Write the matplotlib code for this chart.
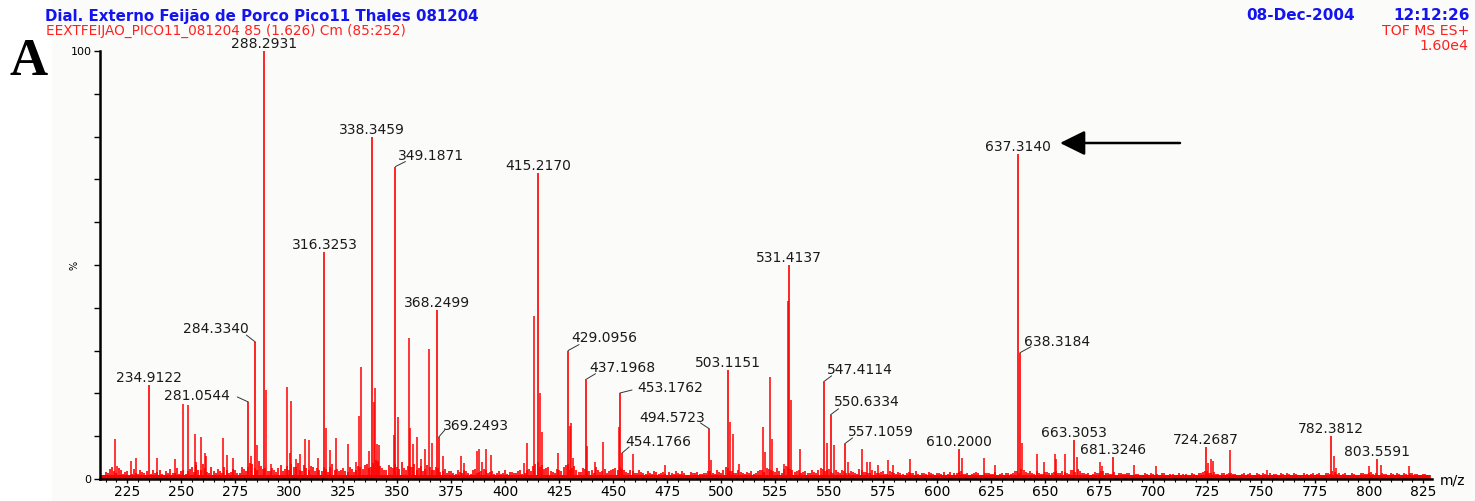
import numpy as np
import matplotlib
matplotlib.use("Agg")
import matplotlib.pyplot as plt
from matplotlib.patches import Rectangle

# ---------------- data ----------------
labeled_mz = [234.9122, 281.0544, 284.3340, 288.2931, 316.3253, 338.3459, 349.1871,
              368.2499, 369.2493, 415.2170, 429.0956, 437.1968, 453.1762, 454.1766,
              494.5723, 503.1151, 531.4137, 547.4114, 550.6334, 557.1059, 610.2000,
              637.3140, 638.3184, 663.3053, 681.3246, 724.2687, 782.3812, 803.5591]
labeled_int = [22.0, 18.0, 32.0, 100.0, 53.0, 80.0, 73.0,
               39.4, 9.8, 71.4, 30.0, 23.2, 20.1, 6.1,
               11.7, 25.4, 50.0, 22.7, 15.0, 8.2, 7.0,
               76.0, 29.5, 9.1, 5.1, 7.5, 10.0, 4.7]

other_mz = [219.3, 220.5, 226.9, 229.1, 239.0, 247.1, 251.0, 253.0, 256.2, 256.8,
            259.3, 260.9, 261.5, 269.2, 271.2, 273.9, 282.1, 285.3, 289.2, 291.8,
            298.8, 300.3, 300.9, 303.1, 305.1, 307.3, 309.3, 313.1, 317.0, 319.0,
            321.6, 327.3, 331.1, 332.4, 333.2, 337.0, 339.4, 339.7, 340.7, 341.6,
            348.6, 350.2, 355.4, 355.9, 357.3, 359.0, 360.9, 363.1, 364.8, 366.0,
            371.3, 379.4, 381.1, 387.1, 388.0, 389.2, 391.2, 393.5, 408.8, 410.1,
            413.3, 416.2, 416.9, 424.4, 430.1, 430.6, 431.2, 438.0, 441.7, 445.1,
            452.5, 459.1, 473.8, 495.3, 504.1, 505.4, 508.3, 519.3, 520.1, 522.7,
            523.6, 528.9, 530.9, 532.4, 536.6, 549.1, 552.1, 558.6, 565.2, 567.5,
            569.0, 572.4, 577.1, 579.6, 587.5, 611.5, 621.8, 626.9, 639.5, 646.2,
            649.6, 654.7, 655.2, 659.3, 664.7, 675.5, 676.3, 691.1, 701.1, 725.5,
            726.8, 727.7, 735.7, 752.6, 783.6, 784.8, 799.8, 805.4, 818.3]
other_int = [9.4, 3.0, 4.2, 4.9, 4.9, 4.7, 17.5, 17.3, 10.5, 4.0,
             9.8, 6.1, 5.4, 9.6, 5.6, 5.0, 5.4, 7.9, 20.8, 3.4,
             21.6, 6.0, 18.3, 4.7, 5.8, 9.4, 9.0, 5.0, 12.0, 6.8,
             9.6, 8.1, 4.0, 14.8, 26.2, 6.6, 18.1, 21.2, 8.2, 7.9,
             10.3, 14.4, 33.0, 12.0, 8.2, 9.7, 4.7, 7.0, 30.4, 8.5,
             5.3, 5.3, 3.7, 6.6, 7.0, 4.0, 7.1, 5.6, 3.8, 8.4,
             38.0, 20.2, 10.9, 6.0, 12.3, 13.0, 5.0, 7.6, 4.0, 8.7,
             12.2, 5.9, 3.3, 4.5, 13.4, 10.5, 3.5, 12.1, 6.4, 23.8,
             9.4, 3.5, 41.7, 18.5, 6.9, 8.5, 8.0, 4.0, 7.1, 4.0,
             4.0, 3.3, 4.5, 3.3, 4.6, 5.0, 5.0, 3.2, 8.5, 5.8,
             4.0, 5.8, 4.6, 5.8, 5.1, 4.0, 3.0, 3.2, 3.0, 3.8,
             4.6, 4.2, 6.8, 2.0, 5.3, 2.5, 3.0, 3.2, 3.0]

# baseline noise: one value per 2 m/z units, first set starting at 213, second at 214
noise_a_start, noise_b_start, noise_step = 213, 214, 2
noise_a = [
    1.0, 1.6, 2.4, 1.8, 2.6, 1.2, 1.9, 1.1, 1.5, 2.2,
    1.3, 0.9, 2.0, 1.6, 1.2, 1.8, 2.4, 1.4, 1.1, 2.0,
    1.8, 2.8, 3.2, 2.1, 2.6, 1.5, 1.9, 2.3, 1.4, 2.2,
    1.6, 2.0, 1.3, 2.4, 2.9, 3.4, 2.2, 3.0, 2.5, 1.8,
    2.1, 2.6, 1.9, 3.1, 3.6, 2.8, 2.2, 3.3, 2.0, 2.7,
    2.5, 1.9, 2.3, 2.9, 2.1, 1.8, 2.6, 1.7, 2.4, 2.0,
    2.8, 3.2, 2.5, 3.8, 4.2, 2.6, 2.2, 2.9, 3.4, 2.3,
    2.6, 3.1, 2.8, 2.2, 3.0, 2.4, 2.7, 2.0, 2.5, 1.8,
    1.4, 1.9, 1.2, 1.7, 2.2, 1.5, 2.0, 1.3, 1.8, 2.1,
    1.6, 1.2, 1.8, 1.4, 1.1, 1.7, 1.5, 2.0, 1.3, 2.4,
    3.0, 4.0, 3.2, 2.5, 1.9, 1.5, 2.1, 2.8, 3.5, 2.6,
    2.0, 1.6, 2.4, 1.8, 1.5, 2.2, 1.9, 1.4, 2.0, 2.6,
    2.8, 2.0, 1.5, 1.9, 1.3, 1.7, 1.1, 1.5, 1.8, 1.2,
    1.6, 1.0, 1.4, 1.8, 1.2, 1.5, 0.9, 1.3, 1.7, 1.1,
    1.4, 1.9, 1.2, 1.6, 2.2, 2.5, 1.8, 1.3, 1.6, 1.1,
    1.5, 1.2, 1.8, 2.0, 2.6, 2.2, 1.7, 1.9, 2.4, 2.8,
    2.2, 1.8, 1.4, 1.9, 1.3, 1.6, 2.0, 2.4, 2.1, 1.7,
    2.0, 1.5, 1.8, 1.3, 1.6, 1.2, 2.1, 1.7, 1.4, 1.9,
    1.3, 1.8, 1.1, 1.6, 1.2, 1.5, 1.0, 1.7, 1.4, 1.2,
    1.5, 1.1, 1.4, 1.0, 1.3, 1.6, 1.2, 0.9, 1.4, 1.8,
    1.2, 1.0, 1.5, 1.3, 0.9, 1.4, 1.1, 1.6, 1.2, 1.0,
    1.5, 1.3, 1.9, 2.4, 1.6, 1.8, 1.2, 1.5, 1.1, 1.7,
    1.4, 1.9, 1.3, 1.6, 1.2, 2.0, 2.3, 1.5, 1.2, 1.0,
    1.6, 1.3, 1.8, 1.4, 1.2, 1.0, 1.5, 1.1, 1.3, 0.9,
    1.2, 0.8, 1.1, 1.3, 0.9, 1.0, 1.4, 0.8, 1.1, 0.9,
    1.0, 1.2, 0.8, 1.1, 1.3, 1.6, 1.9, 1.4, 1.2, 1.0,
    1.3, 1.5, 1.1, 0.9, 1.2, 1.0, 1.4, 0.8, 1.1, 1.3,
    1.0, 0.8, 1.2, 1.4, 0.9, 1.1, 1.3, 1.0, 0.8, 1.2,
    1.1, 0.9, 1.3, 1.0, 1.5, 1.8, 1.2, 1.0, 1.4, 0.9,
    1.2, 1.0, 1.4, 1.1, 1.6, 1.3, 1.0, 1.2, 0.9, 1.1,
    1.3, 1.0, 1.2, 1.5, 1.1, 0.9, 1.2, 1.0]
noise_b = [
    0.8, 1.3, 2.9, 1.4, 2.0, 1.7, 0.9, 2.3, 1.2, 1.6,
    1.9, 1.1, 1.4, 2.2, 0.9, 1.5, 1.3, 2.6, 1.8, 1.2,
    2.4, 1.6, 2.0, 3.5, 1.7, 2.9, 1.4, 1.8, 2.7, 1.5,
    2.3, 1.4, 2.8, 1.9, 3.7, 2.6, 4.1, 2.3, 1.9, 2.6,
    1.7, 3.2, 2.4, 2.0, 2.9, 3.8, 1.9, 2.5, 3.0, 1.8,
    2.2, 2.8, 1.7, 3.4, 2.3, 2.1, 1.9, 2.7, 1.6, 3.1,
    2.4, 3.6, 2.9, 4.5, 3.1, 2.0, 3.3, 2.5, 2.8, 3.9,
    2.2, 2.7, 3.4, 2.5, 1.9, 3.2, 2.1, 2.9, 1.6, 2.3,
    1.8, 1.3, 2.1, 1.5, 1.9, 1.2, 2.4, 1.6, 2.3, 1.4,
    1.9, 1.5, 1.1, 2.0, 1.6, 1.3, 1.9, 1.2, 2.2, 1.8,
    3.6, 2.7, 2.3, 2.9, 1.6, 2.4, 1.8, 3.3, 2.2, 3.0,
    1.7, 2.5, 1.9, 2.2, 2.8, 1.6, 2.3, 1.8, 2.4, 2.1,
    2.3, 1.7, 2.2, 1.4, 2.0, 1.5, 1.8, 1.2, 1.6, 1.4,
    1.2, 1.7, 1.1, 1.5, 1.9, 1.0, 1.6, 1.4, 1.1, 1.5,
    1.8, 1.3, 2.0, 1.5, 2.7, 1.9, 1.4, 2.1, 1.3, 1.7,
    1.9, 1.4, 2.2, 1.6, 2.3, 1.8, 2.5, 1.5, 3.0, 2.3,
    1.6, 2.1, 1.7, 1.3, 2.0, 1.5, 2.6, 1.8, 2.3, 1.5,
    1.7, 2.2, 1.4, 1.9, 1.5, 2.3, 1.6, 1.3, 2.0, 1.5,
    1.6, 1.2, 1.9, 1.4, 1.7, 1.1, 1.5, 1.3, 1.8, 1.0,
    1.3, 1.6, 1.1, 1.5, 1.2, 1.0, 1.7, 1.3, 1.6, 1.2,
    1.4, 1.1, 1.7, 1.0, 1.3, 1.5, 1.2, 1.0, 1.4, 1.3,
    1.2, 1.8, 1.4, 2.1, 1.3, 1.5, 1.9, 1.2, 1.6, 1.4,
    1.7, 1.3, 1.8, 1.4, 2.2, 1.6, 1.9, 1.3, 1.5, 1.2,
    1.3, 1.9, 1.5, 1.2, 1.6, 1.3, 1.1, 1.4, 1.0, 1.2,
    1.0, 1.3, 0.9, 1.2, 1.1, 1.4, 0.9, 1.2, 1.0, 1.3,
    1.2, 0.9, 1.3, 1.0, 1.5, 1.8, 1.3, 1.6, 1.1, 1.3,
    1.1, 1.4, 1.2, 1.0, 1.4, 1.2, 0.9, 1.3, 1.0, 1.2,
    1.3, 1.1, 0.9, 1.2, 1.3, 1.0, 1.2, 0.9, 1.3, 1.0,
    1.3, 1.2, 1.0, 1.4, 1.2, 1.6, 1.3, 1.2, 1.0, 1.3,
    1.0, 1.3, 1.1, 1.5, 1.2, 1.0, 1.4, 1.1, 1.3, 1.0,
    1.1, 1.4, 1.0, 1.3, 1.2, 1.0, 1.1, 0.9]
baseline_level = 1.0

x_ticks = list(range(225, 826, 25))
x_limits = (212.4, 829.1)

title_main = "Dial. Externo Feijão de Porco Pico11 Thales 081204"
title_sub = "EEXTFEIJAO_PICO11_081204 85 (1.626) Cm (85:252)"
date_txt = "08-Dec-2004"
time_txt = "12:12:26"
instr_txt = "TOF MS ES+"
scale_txt = "1.60e4"
panel_txt = "A"

# ---------------- drawing ----------------
W, H = 1475, 501
fig = plt.figure(figsize=(W / 100, H / 100), dpi=100, facecolor="white")
fig.patches.append(Rectangle((52 / W, 0), 1 - 52 / W, 1, transform=fig.transFigure,
                             facecolor="#fbfcfa", edgecolor="none", zorder=-10))

ax = fig.add_axes([100 / W, 22 / H, 1332 / W, 428 / H])
ax.set_facecolor("none")
ax.set_xlim(*x_limits)
ax.set_ylim(0, 100)

RED = "#ff0000"
noise_a_mz = [noise_a_start + noise_step * i for i in range(len(noise_a))]
noise_b_mz = [noise_b_start + noise_step * i for i in range(len(noise_b))]
ax.bar(noise_a_mz, [baseline_level] * len(noise_a_mz), width=noise_step, color=RED,
       linewidth=0, zorder=2)
ax.vlines(noise_a_mz, 0, noise_a, color=RED, lw=1.2, zorder=2)
ax.vlines(noise_b_mz, 0, noise_b, color=RED, lw=1.2, zorder=2)
ax.vlines(other_mz, 0, other_int, color=RED, lw=1.1, zorder=3)
ax.vlines(labeled_mz, 0, labeled_int, color=RED, lw=1.2, zorder=3)

# labels: (text dx, text dy, leader dx, leader dy) in pixels from the peak top
leader = {
    "281.0544": (-51, 6, -11, 5),
    "284.3340": (-39, 13, -9, 7),
    "349.1871": (36, 11, 10, 5),
    "369.2493": (37, 11, 6, 7),
    "429.0956": (36, 13, 11, 6),
    "437.1968": (37, 12, 10, 6),
    "453.1762": (50, 5, 12, 3),
    "454.1766": (36, 11, 7, 6),
    "494.5723": (-37, 11, -9, 6),
    "547.4114": (36, 12, 8, 6),
    "550.6334": (36, 13, 8, 6),
    "557.1059": (36, 12, 8, 6),
    "638.3184": (37, 11, 11, 6),
}
LBL_FONT = dict(family="DejaVu Sans", fontsize=10, color="#1a1a1a")
for mz, h in zip(labeled_mz, labeled_int):
    s = f"{mz:.4f}"
    if s in leader:
        dx, dy, lx, ly = leader[s]
        ax.annotate(s, xy=(mz, h), xytext=(dx, dy), textcoords="offset pixels",
                    ha="center", va="center", zorder=5, **LBL_FONT)
        ax.annotate("", xy=(mz, h), xytext=(lx, ly), textcoords="offset pixels",
                    zorder=5,
                    arrowprops=dict(arrowstyle="-", color="#333333", lw=0.7,
                                    shrinkA=0, shrinkB=0))
    else:
        ax.annotate(s, xy=(mz, h), xytext=(0, 7), textcoords="offset pixels",
                    ha="center", va="center", zorder=5, **LBL_FONT)

# axes styling
for sp in ("top", "right"):
    ax.spines[sp].set_visible(False)
for sp in ("left", "bottom"):
    ax.spines[sp].set_linewidth(1.8)
    ax.spines[sp].set_color("black")
    ax.spines[sp].set_zorder(6)

ax.set_xticks(x_ticks)
ax.set_xticklabels([str(t) for t in x_ticks], family="DejaVu Sans", fontsize=10)
ax.set_xticks(list(range(215, 830, 5)), minor=True)
ax.tick_params(axis="x", which="major", length=3, width=1, pad=1.5, direction="out")
ax.tick_params(axis="x", which="minor", length=2, width=0.8, direction="out")

y_ticks = list(range(0, 101, 10))
ax.set_yticks(y_ticks)
ax.set_yticklabels(["0" if t == 0 else ("100" if t == 100 else "") for t in y_ticks],
                   family="DejaVu Sans", fontsize=8)
ax.tick_params(axis="y", length=4, width=1, pad=2, direction="out")

ax.text(-0.0195, 0.5, "%", transform=ax.transAxes, rotation=90, ha="center",
        va="center", fontsize=7, family="DejaVu Sans")
fig.text(1440 / W, 1 - 481 / H, "m/z", ha="left", va="center", fontsize=10,
         family="DejaVu Sans")

# header texts
BLUE = "#1414ee"
fig.text(45 / W, 1 - 16 / H, title_main, ha="left", va="center", fontsize=10.8,
         fontweight="bold", color=BLUE, family="DejaVu Sans")
fig.text(46 / W, 1 - 31 / H, title_sub, ha="left", va="center", fontsize=9.8,
         color="#ff2020", family="DejaVu Sans")
fig.text(1355 / W, 1 - 16 / H, date_txt, ha="right", va="center", fontsize=11,
         fontweight="bold", color=BLUE, family="DejaVu Sans")
fig.text(1470 / W, 1 - 16 / H, time_txt, ha="right", va="center", fontsize=11,
         fontweight="bold", color=BLUE, family="DejaVu Sans")
fig.text(1469 / W, 1 - 31 / H, instr_txt, ha="right", va="center", fontsize=10.2,
         color="#ff2020", family="DejaVu Sans")
fig.text(1468 / W, 1 - 45.5 / H, scale_txt, ha="right", va="center", fontsize=10.2,
         color="#ff2020", family="DejaVu Sans")
fig.text(9 / W, 1 - 62 / H, panel_txt, ha="left", va="center", fontsize=38,
         fontweight="bold", family="Liberation Serif", color="black")

# arrow pointing at the 637 peak label
ax.annotate("", xy=(1060, H - 143), xytext=(1180, H - 143),
            xycoords="figure pixels", textcoords="figure pixels",
            arrowprops=dict(arrowstyle="-|>,head_length=0.85,head_width=0.42",
                            mutation_scale=18, lw=1.8, color="black",
                            shrinkA=0, shrinkB=0))

fig.savefig("out.png", dpi=100, facecolor=fig.get_facecolor())
